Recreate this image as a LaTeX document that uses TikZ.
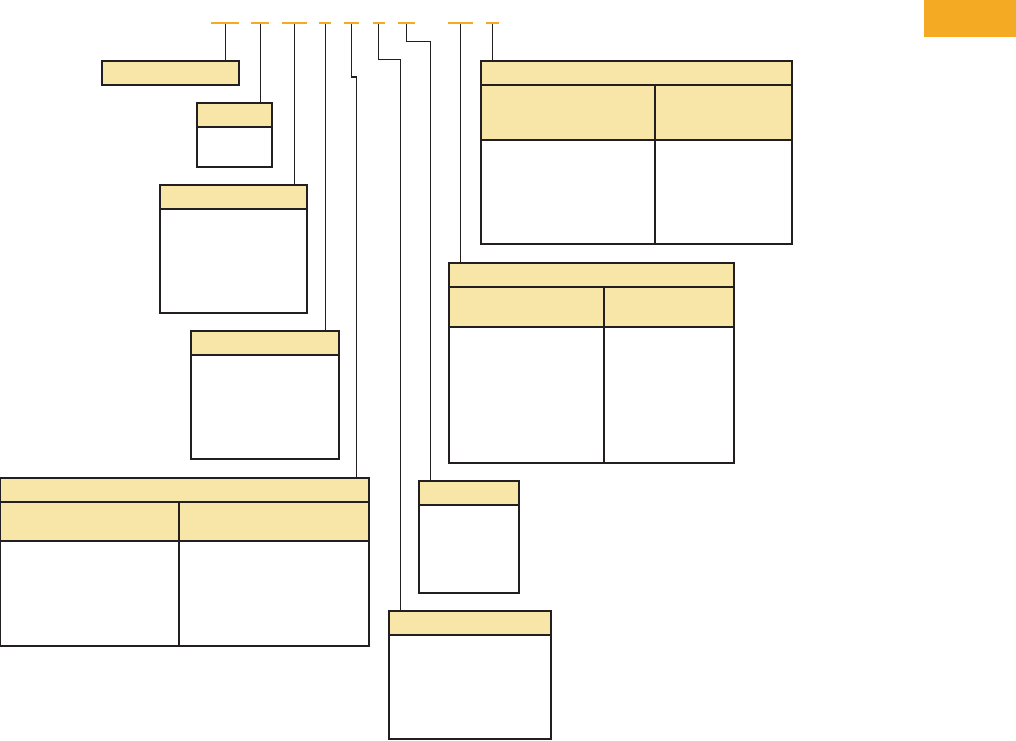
\documentclass[tikz,border=0pt]{standalone}
\begin{document}
\definecolor{hdr}{HTML}{F8E6A9}
\definecolor{orng}{HTML}{F4AB23}
\definecolor{ink}{HTML}{231F20}
\begin{tikzpicture}[x=1pt,y=-1pt,
  boxn/.style={draw=ink,line width=1.1pt,rectangle,inner sep=0pt,outer sep=0pt,anchor=north west},
  dashn/.style={fill=orng,draw=none,rectangle,inner sep=0pt,outer sep=0pt,minimum height=2pt},
  conn/.style={draw=ink,line width=1.1pt},
  rule/.style={draw=ink,line width=1.1pt},
  hfill/.style={fill=hdr}]
\useasboundingbox (0,0) rectangle (1016,740);
% orange tab
\fill[orng] (924,0) rectangle (1016,37);
% header fills
\fill[hfill] (102,61) rectangle (239,85);
\fill[hfill] (197,103) rectangle (272,127);
\fill[hfill] (160,185) rectangle (307,209);
\fill[hfill] (191,331) rectangle (339,355);
\fill[hfill] (0.7,478) rectangle (369,541);
\fill[hfill] (389,611) rectangle (551,635);
\fill[hfill] (419,481) rectangle (519,505);
\fill[hfill] (449,263) rectangle (734,327);
\fill[hfill] (481,61) rectangle (792,140);
% boxes
\node[boxn,minimum width=137pt,minimum height=24pt] (A) at (102,61) {};
\node[boxn,minimum width=75pt,minimum height=64pt] (B) at (197,103) {};
\node[boxn,minimum width=147pt,minimum height=128pt] (C) at (160,185) {};
\node[boxn,minimum width=148pt,minimum height=128pt] (D) at (191,331) {};
\node[boxn,minimum width=368.3pt,minimum height=168pt] (E) at (0.7,478) {};
\node[boxn,minimum width=162pt,minimum height=128pt] (F) at (389,611) {};
\node[boxn,minimum width=100pt,minimum height=112pt] (G) at (419,481) {};
\node[boxn,minimum width=285pt,minimum height=200pt] (H) at (449,263) {};
\node[boxn,minimum width=311pt,minimum height=183pt] (I) at (481,61) {};
% divider coordinates
\coordinate (vE) at (179,502);
\coordinate (vH) at (604,287);
\coordinate (vI) at (655,85);
% inner rules
\draw[rule] (B.west |- 0,127) -- (B.east |- 0,127);
\draw[rule] (C.west |- 0,209) -- (C.east |- 0,209);
\draw[rule] (D.west |- 0,355) -- (D.east |- 0,355);
\draw[rule] (E.west |- 0,502) -- (E.east |- 0,502);
\draw[rule] (E.west |- 0,541) -- (E.east |- 0,541);
\draw[rule] (vE) -- (vE |- E.south);
\draw[rule] (F.west |- 0,635) -- (F.east |- 0,635);
\draw[rule] (G.west |- 0,505) -- (G.east |- 0,505);
\draw[rule] (H.west |- 0,287) -- (H.east |- 0,287);
\draw[rule] (H.west |- 0,327) -- (H.east |- 0,327);
\draw[rule] (vH) -- (vH |- H.south);
\draw[rule] (I.west |- 0,85) -- (I.east |- 0,85);
\draw[rule] (I.west |- 0,140) -- (I.east |- 0,140);
\draw[rule] (vI) -- (vI |- I.south);
% orange dashes
\node[dashn,minimum width=28pt] (d1) at (225.3,23) {};
\node[dashn,minimum width=18pt] (d2) at (260.3,23) {};
\node[dashn,minimum width=25pt] (d3) at (294.3,23) {};
\node[dashn,minimum width=12pt] (d4) at (325.3,23) {};
\node[dashn,minimum width=15pt] (d5) at (351.3,23) {};
\node[dashn,minimum width=12pt] (d6) at (378.7,23) {};
\node[dashn,minimum width=17pt] (d7) at (406.3,23) {};
\node[dashn,minimum width=25pt] (d8) at (460.3,23) {};
\node[dashn,minimum width=13pt] (d9) at (492.3,23) {};
% bend points
\coordinate (jE) at (356.3,77);
\coordinate (jF) at (400.5,59.3);
\coordinate (jG) at (430.3,41.3);
% connectors
\draw[conn] (d1.center) -- (d1.center |- A.north);
\draw[conn] (d2.center) -- (d2.center |- B.north);
\draw[conn] (d3.center) -- (d3.center |- C.north);
\draw[conn] (d4.center) -- (d4.center |- D.north);
\draw[conn] (d5.center) |- (jE) -- (jE |- E.north);
\draw[conn] (d6.center) |- (jF) -- (jF |- F.north);
\draw[conn] (d7.center) |- (jG) -- (jG |- G.north);
\draw[conn] (d8.center) -- (d8.center |- H.north);
\draw[conn] (d9.center) -- (d9.center |- I.north);
% redraw dashes on top
\node[dashn,minimum width=28pt] at (d1) {};
\node[dashn,minimum width=18pt] at (d2) {};
\node[dashn,minimum width=25pt] at (d3) {};
\node[dashn,minimum width=12pt] at (d4) {};
\node[dashn,minimum width=15pt] at (d5) {};
\node[dashn,minimum width=12pt] at (d6) {};
\node[dashn,minimum width=17pt] at (d7) {};
\node[dashn,minimum width=25pt] at (d8) {};
\node[dashn,minimum width=13pt] at (d9) {};
\end{tikzpicture}
\end{document}
